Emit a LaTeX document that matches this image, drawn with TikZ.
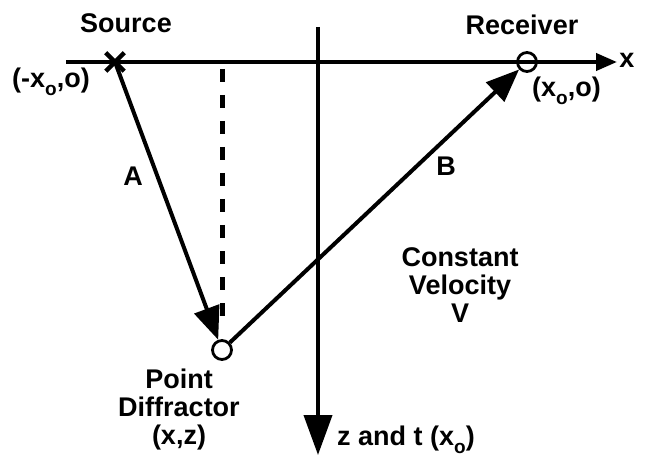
\documentclass[tikz,border=0pt]{standalone}
\usepackage{fontspec}
\setmainfont{Liberation Sans}
\usetikzlibrary{arrows.meta,shapes.misc}
\newcommand{\subo}{\raisebox{-8pt}{\fontsize{19}{19}\selectfont o}}
\begin{document}
\begin{tikzpicture}[x=1pt,y=-1pt,
  lbl/.style={font=\fontsize{27}{28}\selectfont\bfseries, inner sep=0pt},
  axisline/.style={line width=4pt},
  ray/.style={line width=4pt, -{Triangle[length=33pt,width=26pt]}},
  ringnode/.style={circle, draw, line width=2.8pt, minimum size=19pt, inner sep=0pt},
  guide/.style={line width=5pt, dash pattern=on 13pt off 13pt}]
\useasboundingbox (0,0) rectangle (645,457);
% axes
\coordinate (xl) at (66,62);
\coordinate (xr) at (617,62);
\coordinate (zt) at (318,27);
\coordinate (zb) at (318,455);
\draw[axisline, -{Triangle[length=21pt,width=17pt]}] (xl) -- (xr);
\draw[axisline, -{Triangle[length=40pt,width=28pt]}] (zt) -- (zb);
% points
\node[cross out, draw, line width=4.5pt, minimum size=14pt, inner sep=0pt] (src) at (115,62) {};
\node[ringnode] (rcv) at (527,62) {};
\node[ringnode] (dif) at (222,350) {};
% dashed vertical
\coordinate (dtop) at (222,64);
\coordinate (dbot) at (222,326);
\draw[guide, dash phase=-5pt] (dtop) -- (dbot);
% rays
\draw[ray] (src.center) -- (dif);
\draw[ray] (dif) -- (rcv);
% labels
\node[lbl, anchor=base] (tsrc) at (126,33) {Source};
\node[lbl, anchor=base] (trcv) at (522,35) {Receiver};
\node[lbl, anchor=base] (tx) at (627,68) {x};
\node[lbl, anchor=base west] (tsrcc) at (12,88) {(-x\subo,o)};
\node[lbl, anchor=base west] (trcvc) at (532,97) {(x\subo,o)};
\node[lbl, anchor=base] (tA) at (133,186) {A};
\node[lbl, anchor=base] (tB) at (446,176) {B};
\node[lbl, anchor=north, align=center] (tvel) at (460,247) {Constant\\Velocity\\V};
\node[lbl, anchor=north, align=center] (tdif) at (179,369) {Point\\Diffractor\\(x,z)};
\node[lbl, anchor=base west] (tz) at (337,445) {z and t (x\subo)};
\end{tikzpicture}
\end{document}
